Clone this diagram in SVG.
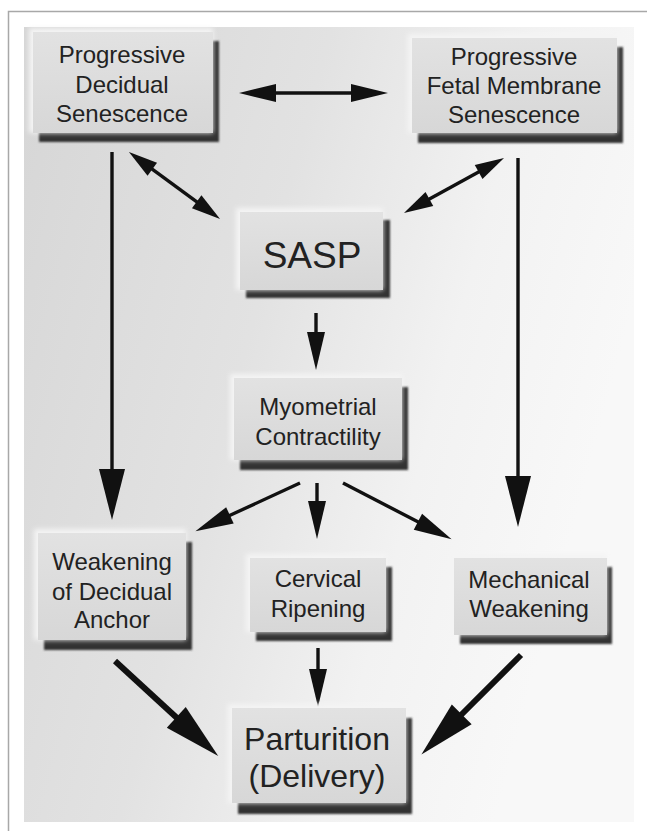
<svg xmlns="http://www.w3.org/2000/svg" width="647" height="831" viewBox="0 0 647 831">
<style>
.t{font-family:"Liberation Sans",Arial,sans-serif;fill:#222;text-anchor:middle;font-size:24px}
.body{fill:url(#bodyg)}
.hl{fill:#f4f4f4;filter:url(#bl2)}
.sh{fill:#333;filter:url(#bl1)}
.c{stroke:#111;fill:none;stroke-width:3.4}
.cb{stroke:#111;fill:none;stroke-width:6}
.ah{fill:#111}
</style>
<defs>
<linearGradient id="bg" x1="0" y1="0" x2="1" y2="0.35">
<stop offset="0" stop-color="#d6d6d6"/>
<stop offset="0.45" stop-color="#e2e2e2"/>
<stop offset="0.75" stop-color="#f2f2f2"/>
<stop offset="1" stop-color="#f8f8f8"/>
</linearGradient>
<linearGradient id="bodyg" x1="0" y1="0" x2="0" y2="1">
<stop offset="0" stop-color="#e2e2e2"/>
<stop offset="1" stop-color="#d7d7d7"/>
</linearGradient>
<filter id="bl1" x="-10%" y="-10%" width="120%" height="130%"><feGaussianBlur stdDeviation="1.3"/></filter>
<filter id="bl2" x="-10%" y="-10%" width="120%" height="130%"><feGaussianBlur stdDeviation="2.5"/></filter>
<marker id="a1" markerUnits="userSpaceOnUse" orient="auto-start-reverse" markerWidth="40" markerHeight="20" refX="0" refY="9" viewBox="0 0 40 20" overflow="visible"><path class="ah" d="M-1,0 L36,9 L-1,18 z"/></marker>
<marker id="a2" markerUnits="userSpaceOnUse" orient="auto-start-reverse" markerWidth="30" markerHeight="20" refX="0" refY="8" viewBox="0 0 30 20" overflow="visible"><path class="ah" d="M-1,0 L28,8 L-1,16 z"/></marker>
<marker id="a3" markerUnits="userSpaceOnUse" orient="auto" markerWidth="40" markerHeight="20" refX="0" refY="9" viewBox="0 0 40 20" overflow="visible"><path class="ah" d="M-1,0 L37,9 L-1,18 z"/></marker>
<marker id="aL" markerUnits="userSpaceOnUse" orient="auto" markerWidth="52" markerHeight="26" refX="0" refY="13" viewBox="0 0 52 26" overflow="visible"><path class="ah" d="M-1,0 L50,13 L-1,26 z"/></marker>
<marker id="aB" markerUnits="userSpaceOnUse" orient="auto" markerWidth="58" markerHeight="30" refX="0" refY="14" viewBox="0 0 58 30" overflow="visible"><path class="ah" d="M-1,0 L56,14 L-1,28 z"/></marker>
</defs>
<rect x="0" y="0" width="647" height="831" fill="#ffffff"/>
<rect x="8.5" y="11.5" width="660" height="840" fill="none" stroke="#a8a8a8" stroke-width="1.5"/>
<rect x="24" y="27" width="610" height="795" fill="url(#bg)"/>

<g id="connectors">
<path class="c" d="M275,93 L352,93" marker-start="url(#a1)" marker-end="url(#a1)"/>
<path class="c" d="M151.5,168.6 L197.5,202.4" marker-start="url(#a2)" marker-end="url(#a2)"/>
<path class="c" d="M479.5,171.5 L428.5,199.5" marker-start="url(#a2)" marker-end="url(#a2)"/>
<path class="c" d="M316,313 L316,333" marker-end="url(#a3)"/>
<path class="c" d="M112,152 L112,470" marker-end="url(#aL)"/>
<path class="c" d="M518,158 L518,477" marker-end="url(#aL)"/>
<path class="c" d="M317,483 L317,502" marker-end="url(#a3)"/>
<path class="c" d="M300,483 L229,515.8" marker-end="url(#a3)"/>
<path class="c" d="M343,483 L418.8,522.3" marker-end="url(#a3)"/>
<path class="c" d="M318,648 L318,670" marker-end="url(#a3)"/>
<path class="cb" d="M115,661 L177,718" marker-end="url(#aB)"/>
<path class="cb" d="M521,655 L461,715" marker-end="url(#aB)"/>
</g>

<g id="n-decidual">
<rect class="sh" x="39" y="41" width="180" height="101"/>
<rect class="hl" x="29" y="28" width="184" height="105"/>
<rect class="body" x="33" y="32" width="180" height="101"/>
<text class="t" x="122" y="63">Progressive</text>
<text class="t" x="122" y="93">Decidual</text>
<text class="t" x="122" y="122">Senescence</text>
</g>

<g id="n-fetal">
<rect class="sh" x="418" y="47" width="205" height="96"/>
<rect class="hl" x="408" y="34" width="209" height="99"/>
<rect class="body" x="412" y="38" width="205" height="95"/>
<text class="t" x="514" y="65">Progressive</text>
<text class="t" x="514" y="94">Fetal Membrane</text>
<text class="t" x="514" y="123">Senescence</text>
</g>

<g id="n-sasp">
<rect class="sh" x="246" y="220" width="144" height="78"/>
<rect class="hl" x="236" y="208" width="147" height="82"/>
<rect class="body" x="240" y="212" width="143" height="78"/>
<text class="t" x="312" y="268" style="font-size:37px">SASP</text>
</g>

<g id="n-myo">
<rect class="sh" x="240" y="387" width="168" height="83"/>
<rect class="hl" x="230" y="374" width="172" height="86"/>
<rect class="body" x="234" y="378" width="168" height="82"/>
<text class="t" x="318" y="415">Myometrial</text>
<text class="t" x="318" y="445">Contractility</text>
</g>

<g id="n-weak">
<rect class="sh" x="44" y="542" width="148" height="108"/>
<rect class="hl" x="34" y="529" width="152" height="111"/>
<rect class="body" x="38" y="533" width="148" height="107"/>
<text class="t" x="112" y="570">Weakening</text>
<text class="t" x="112" y="600">of Decidual</text>
<text class="t" x="112" y="628">Anchor</text>
</g>

<g id="n-cervical">
<rect class="sh" x="256" y="567" width="136" height="74"/>
<rect class="hl" x="246" y="554" width="140" height="78"/>
<rect class="body" x="250" y="558" width="136" height="74"/>
<text class="t" x="318" y="587">Cervical</text>
<text class="t" x="318" y="617">Ripening</text>
</g>

<g id="n-mech">
<rect class="sh" x="460" y="567" width="152" height="77"/>
<rect class="hl" x="450" y="554" width="157" height="81"/>
<rect class="body" x="454" y="558" width="153" height="77"/>
<text class="t" x="529" y="588">Mechanical</text>
<text class="t" x="529" y="617">Weakening</text>
</g>

<g id="n-partur">
<rect class="sh" x="238" y="718" width="174" height="96"/>
<rect class="hl" x="228" y="704" width="178" height="99"/>
<rect class="body" x="232" y="708" width="174" height="95"/>
<text class="t" x="317" y="750" style="font-size:32px">Parturition</text>
<text class="t" x="317" y="787" style="font-size:32px">(Delivery)</text>
</g>
</svg>
